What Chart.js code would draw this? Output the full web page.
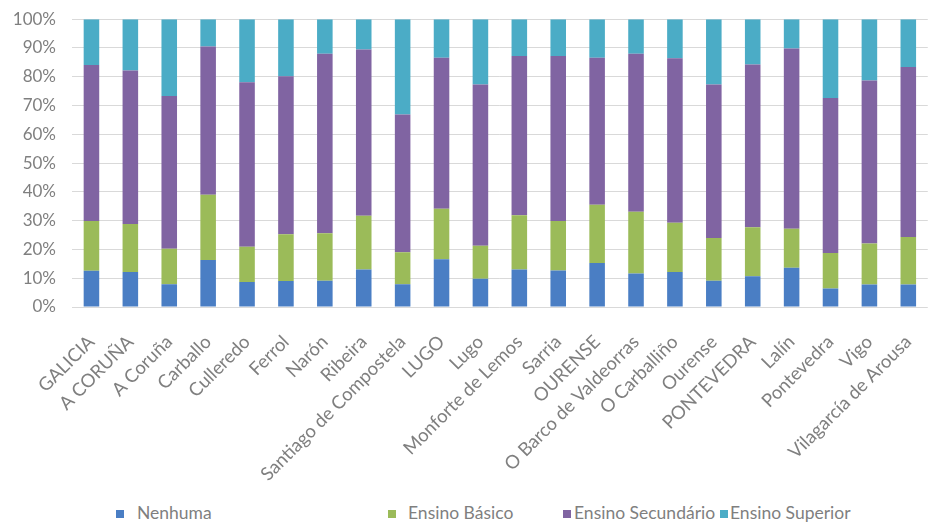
<!DOCTYPE html>
<html>
<head>
<meta charset="utf-8">
<script src="https://cdn.jsdelivr.net/npm/chart.js@4"></script>
<style>
  html, body { margin: 0; padding: 0; background: #fff; overflow: hidden; }
  #wrap { position: relative; width: 932px; height: 523px; overflow: hidden; }
  /* shifted up a little so the 100% line lands where the original has it */
  #chart { position: absolute; left: 0; top: -7px; }
  .leg-box { position: absolute; width: 8px; height: 8px; top: 510px; }
  .leg-text { position: absolute; top: 502px; font-family: Lato, sans-serif; font-size: 17.5px; color: #7f7f7f; white-space: nowrap; }
</style>
</head>
<body>
<div id="wrap">
  <canvas id="chart" width="940" height="494"></canvas>
  <div id="legend"></div>
</div>
<script>
// categories (municipalities / provinces)
const places = ['GALICIA', 'A CORUÑA', 'A Coruña', 'Carballo', 'Culleredo', 'Ferrol', 'Narón', 'Ribeira',
  'Santiago de Compostela', 'LUGO', 'Lugo', 'Monforte de Lemos', 'Sarria', 'OURENSE', 'O Barco de Valdeorras',
  'O Carballiño', 'Ourense', 'PONTEVEDRA', 'Lalín', 'Pontevedra', 'Vigo', 'Vilagarcía de Arousa'];

// share of population by education level (%)
const nenhuma    = [12.6, 12.2, 7.9, 16.3, 8.7, 9.0, 9.1, 13.0, 7.9, 16.6, 9.8, 13.0, 12.7, 15.3, 11.6, 12.2, 9.1, 10.7, 13.6, 6.4, 7.8, 7.8];
const basico     = [17.3, 16.6, 12.3, 22.7, 12.2, 16.3, 16.5, 18.7, 11.1, 17.5, 11.5, 18.9, 17.2, 20.2, 21.5, 17.1, 14.9, 17.0, 13.6, 12.4, 14.3, 16.5];
const secundario = [54.2, 53.4, 53.1, 51.5, 57.2, 54.9, 62.4, 57.8, 47.9, 52.5, 56.0, 55.3, 57.3, 51.1, 54.9, 57.1, 53.3, 56.6, 62.6, 53.8, 56.6, 59.1];
const superior   = [15.9, 17.8, 26.7, 9.5, 21.9, 19.8, 12.0, 10.5, 33.1, 13.4, 22.7, 12.8, 12.8, 13.4, 12.0, 13.6, 22.7, 15.7, 10.2, 27.4, 21.3, 16.6];

const seriesNames = ['Nenhuma', 'Ensino Básico', 'Ensino Secundário', 'Ensino Superior'];
const seriesColors = ['#4a7ec4', '#9bbb59', '#8064a2', '#4bacc6'];

// legend positions copied from the original layout (box x, text x)
const legendPos = [[116, 137], [388, 408], [563, 574], [720, 730]];

const tickColor = '#7f7f7f';

const datasets = [nenhuma, basico, secundario, superior].map((vals, i) => ({
    label: seriesNames[i],
    data: vals,
    backgroundColor: seriesColors[i],
    borderWidth: 0,
    categoryPercentage: 0.8,
    barPercentage: 0.5
}));

new Chart(document.getElementById('chart'), {
    type: 'bar',
    data: { labels: places, datasets: datasets },
    options: {
        responsive: false,
        animation: false,
        plugins: {
            legend: { display: false },
            tooltip: { enabled: false }
        },
        scales: {
            x: {
                stacked: true,
                grid: { display: false },
                border: { display: false },
                ticks: {
                    color: tickColor,
                    font: { family: 'Lato', size: 18.5 },
                    maxRotation: 45,
                    minRotation: 45,
                    autoSkip: false,
                    padding: 16
                },
                afterFit(scale) { scale.height = 180; }
            },
            y: {
                stacked: true,
                min: 0,
                max: 100,
                grid: { color: '#d9d9d9', drawTicks: false },
                border: { display: false },
                ticks: {
                    stepSize: 10,
                    color: tickColor,
                    font: { family: 'Lato', size: 17 },
                    padding: 16,
                    callback: v => v + '%'
                },
                afterFit(scale) { scale.width = 72; }
            }
        }
    }
});

// legend laid out like the original
const legend = document.getElementById('legend');
seriesNames.forEach((name, i) => {
    const box = document.createElement('div');
    box.className = 'leg-box';
    box.style.left = legendPos[i][0] + 'px';
    box.style.background = seriesColors[i];
    const txt = document.createElement('div');
    txt.className = 'leg-text';
    txt.style.left = legendPos[i][1] + 'px';
    txt.textContent = name;
    legend.appendChild(box);
    legend.appendChild(txt);
});
</script>
</body>
</html>
